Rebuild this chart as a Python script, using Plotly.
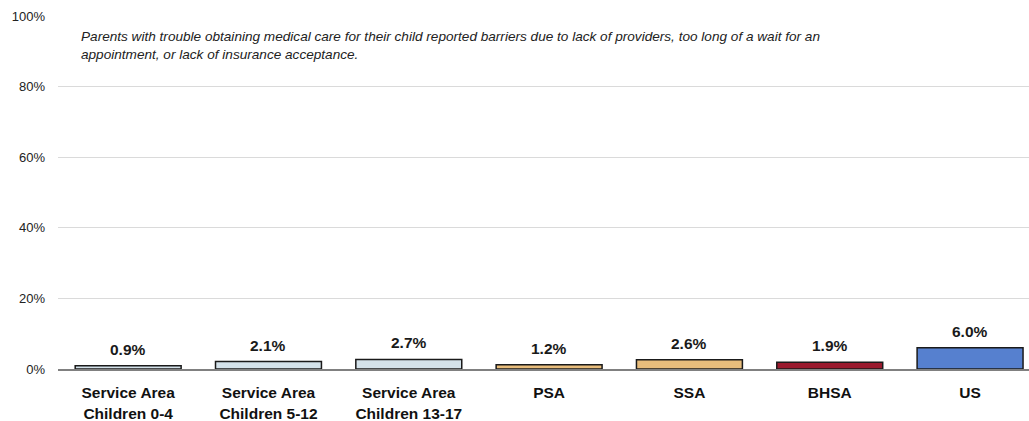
import plotly.graph_objects as go

categories = ["Service Area<br>Children 0-4", "Service Area<br>Children 5-12", "Service Area<br>Children 13-17",
              "PSA", "SSA", "BHSA", "US"]
values = [0.9, 2.1, 2.7, 1.2, 2.6, 1.9, 6.0]
colors = ["#D4E2EA", "#D4E2EA", "#D4E2EA", "#E8BD7C", "#E8BD7C", "#9A1A2E", "#5680CF"]
yticks = [0, 20, 40, 60, 80, 100]
note = ("Parents with trouble obtaining medical care for their child reported barriers due to lack of providers, too long of a wait for an<br>"
        "appointment, or lack of insurance acceptance.")

FONT = "Liberation Sans, Arial, sans-serif"

W, H = 1029, 421
l, r, t, b = 58, 0, 16, 52
pw, ph = W - l - r, H - t - b

fig = go.Figure(go.Bar(
    x=list(range(len(categories))), y=values,
    marker=dict(color=colors, line=dict(color="#1a1a1a", width=1.5)),
    width=0.755,
    hoverinfo="skip",
))

annotations = [dict(
    x=i, y=v, xref="x", yref="y", xanchor="center", yanchor="bottom",
    text=f"<b>{v:.1f}%</b>", showarrow=False, yshift=6,
    font=dict(family=FONT, size=15.5, color="#1a1a1a"),
) for i, v in enumerate(values)]

annotations.append(dict(
    x=(79 - l) / pw, y=1 - (46 - t) / ph, xref="paper", yref="paper",
    xanchor="left", yanchor="middle",
    text=f"<i>{note}</i>", showarrow=False, align="left",
    font=dict(family=FONT, size=13.6, color="#222222"),
))

fig.update_layout(
    width=W, height=H,
    margin=dict(l=l, r=r, t=t, b=b),
    plot_bgcolor="white", paper_bgcolor="white",
    showlegend=False,
    font=dict(family=FONT, size=13, color="#222222"),
    xaxis=dict(
        range=[-0.5, 6.42],
        tickvals=list(range(len(categories))),
        ticktext=[f"<b>{c}</b>" for c in categories],
        tickfont=dict(family=FONT, size=15.5, color="#111111"),
        showline=True, linecolor="#808080", linewidth=1.5,
        ticks="", showgrid=False, zeroline=False, automargin=False,
        ticklabelstandoff=9,
    ),
    yaxis=dict(
        range=[0, 100], tickvals=yticks, ticktext=[f"{t}%" for t in yticks],
        showgrid=True, gridcolor="#DADADA", gridwidth=1,
        zeroline=False, ticks="", automargin=False,
        ticklabelstandoff=12,
        tickfont=dict(family=FONT, size=13, color="#222222"),
    ),
    annotations=annotations,
)

fig.write_html(
    "out.html",
    config={"displayModeBar": False},
    post_script="document.body.style.margin='0';document.body.style.overflow='hidden';",
)
